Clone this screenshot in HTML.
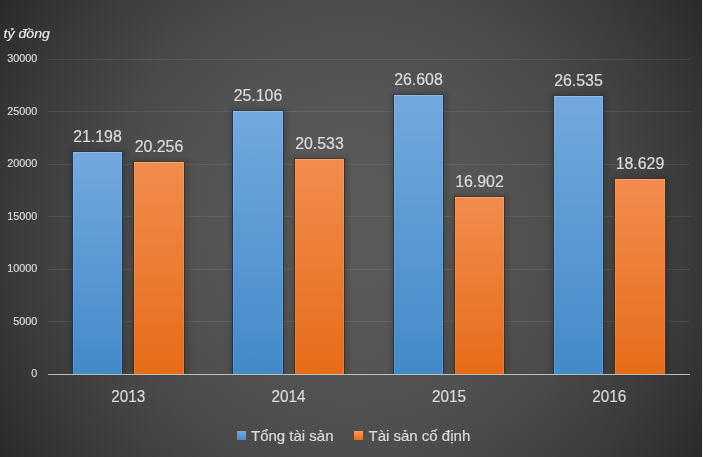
<!DOCTYPE html>
<html><head><meta charset="utf-8"><style>
html,body{margin:0;padding:0;background:#2a2a2a;}
svg{display:block;will-change:transform;}
text{font-family:"Liberation Sans",sans-serif;fill:#dcdcdc;stroke:#dcdcdc;stroke-width:0.18px;}
.dl{font-size:15.6px;}
.xl{font-size:16px;}
.yl{font-size:10.8px;}
.lg{font-size:15px;}
.ti{font-size:13px;font-style:italic;fill:#f2f2f2;}
</style></head><body>
<svg width="703" height="457" viewBox="0 0 703 457">
<defs>
<radialGradient id="bg" cx="351.5" cy="228.5" r="419" gradientUnits="userSpaceOnUse">
<stop offset="0.00" stop-color="rgb(90,90,90)"/>
<stop offset="0.10" stop-color="rgb(90,90,90)"/>
<stop offset="0.20" stop-color="rgb(88,88,88)"/>
<stop offset="0.30" stop-color="rgb(86,86,86)"/>
<stop offset="0.40" stop-color="rgb(82,82,82)"/>
<stop offset="0.50" stop-color="rgb(78,78,78)"/>
<stop offset="0.60" stop-color="rgb(73,73,73)"/>
<stop offset="0.70" stop-color="rgb(66,66,66)"/>
<stop offset="0.80" stop-color="rgb(59,59,59)"/>
<stop offset="0.90" stop-color="rgb(51,51,51)"/>
<stop offset="1.00" stop-color="rgb(42,42,42)"/>
</radialGradient>
<filter id="blur" x="-50%" y="-50%" width="200%" height="200%"><feGaussianBlur stdDeviation="2"/></filter>
<filter id="blur1" x="-10%" y="-200%" width="120%" height="500%"><feGaussianBlur stdDeviation="1.2"/></filter>
<linearGradient id="gb" x1="0" y1="0" x2="0" y2="1">
<stop offset="0" stop-color="#72a8de"/>
<stop offset="1" stop-color="#438ac9"/>
</linearGradient>
<linearGradient id="go" x1="0" y1="0" x2="0" y2="1">
<stop offset="0" stop-color="#f28c4e"/>
<stop offset="1" stop-color="#e56c18"/>
</linearGradient>
<linearGradient id="lb" x1="0" y1="0" x2="0" y2="1">
<stop offset="0" stop-color="#72a8de"/><stop offset="1" stop-color="#4a8acb"/>
</linearGradient>
<linearGradient id="lo" x1="0" y1="0" x2="0" y2="1">
<stop offset="0" stop-color="#f39a62"/><stop offset="1" stop-color="#e9701c"/>
</linearGradient>
</defs>
<rect x="0" y="0" width="703" height="457" fill="url(#bg)"/>
<rect x="702" y="0" width="1" height="457" fill="#f4f4f4"/>
<text x="3.5" y="37.5" class="ti" textLength="46.5" lengthAdjust="spacingAndGlyphs">tỷ đồng</text>
<rect x="48.0" y="321" width="642.00" height="1" fill="#fff" fill-opacity="0.08"/>
<rect x="48.0" y="269" width="642.00" height="1" fill="#fff" fill-opacity="0.08"/>
<rect x="48.0" y="216" width="642.00" height="1" fill="#fff" fill-opacity="0.08"/>
<rect x="48.0" y="164" width="642.00" height="1" fill="#fff" fill-opacity="0.08"/>
<rect x="48.0" y="111" width="642.00" height="1" fill="#fff" fill-opacity="0.08"/>
<rect x="48.0" y="59" width="642.00" height="1" fill="#fff" fill-opacity="0.08"/>
<rect x="69" y="149" width="58" height="225" fill="#000" fill-opacity="0.14" filter="url(#blur)"/>
<rect x="72" y="151" width="51" height="1" fill="#1f3650" fill-opacity="0.55"/>
<rect x="72" y="152" width="1" height="222" fill="#1f3650"/>
<rect x="122" y="152" width="1" height="222" fill="#1f3650" fill-opacity="0.9"/>
<rect x="73" y="152" width="49" height="222" fill="url(#gb)"/>
<rect x="73" y="152" width="49" height="1" fill="#fff" fill-opacity="0.22"/>
<rect x="73" y="153" width="1" height="221" fill="#fff" fill-opacity="0.11"/>
<rect x="121" y="153" width="1" height="221" fill="#fff" fill-opacity="0.11"/>
<text x="97.50" y="142.20" class="dl" text-anchor="middle" textLength="48.6" lengthAdjust="spacingAndGlyphs">21.198</text>
<rect x="130" y="159" width="59" height="215" fill="#000" fill-opacity="0.14" filter="url(#blur)"/>
<rect x="133" y="161" width="52" height="1" fill="#4a2a14" fill-opacity="0.55"/>
<rect x="133" y="162" width="1" height="212" fill="#4a2a14"/>
<rect x="184" y="162" width="1" height="212" fill="#4a2a14" fill-opacity="0.9"/>
<rect x="134" y="162" width="50" height="212" fill="url(#go)"/>
<rect x="134" y="162" width="50" height="1" fill="#fff" fill-opacity="0.22"/>
<rect x="134" y="163" width="1" height="211" fill="#fff" fill-opacity="0.11"/>
<rect x="183" y="163" width="1" height="211" fill="#fff" fill-opacity="0.11"/>
<text x="159.00" y="152.20" class="dl" text-anchor="middle" textLength="48.6" lengthAdjust="spacingAndGlyphs">20.256</text>
<text x="128.19" y="402" class="xl" text-anchor="middle" textLength="34" lengthAdjust="spacingAndGlyphs">2013</text>
<rect x="229" y="108" width="59" height="266" fill="#000" fill-opacity="0.14" filter="url(#blur)"/>
<rect x="232" y="110" width="52" height="1" fill="#1f3650" fill-opacity="0.55"/>
<rect x="232" y="111" width="1" height="263" fill="#1f3650"/>
<rect x="283" y="111" width="1" height="263" fill="#1f3650" fill-opacity="0.9"/>
<rect x="233" y="111" width="50" height="263" fill="url(#gb)"/>
<rect x="233" y="111" width="50" height="1" fill="#fff" fill-opacity="0.22"/>
<rect x="233" y="112" width="1" height="262" fill="#fff" fill-opacity="0.11"/>
<rect x="282" y="112" width="1" height="262" fill="#fff" fill-opacity="0.11"/>
<text x="258.00" y="101.20" class="dl" text-anchor="middle" textLength="48.6" lengthAdjust="spacingAndGlyphs">25.106</text>
<rect x="291" y="156" width="58" height="218" fill="#000" fill-opacity="0.14" filter="url(#blur)"/>
<rect x="294" y="158" width="51" height="1" fill="#4a2a14" fill-opacity="0.55"/>
<rect x="294" y="159" width="1" height="215" fill="#4a2a14"/>
<rect x="344" y="159" width="1" height="215" fill="#4a2a14" fill-opacity="0.9"/>
<rect x="295" y="159" width="49" height="215" fill="url(#go)"/>
<rect x="295" y="159" width="49" height="1" fill="#fff" fill-opacity="0.22"/>
<rect x="295" y="160" width="1" height="214" fill="#fff" fill-opacity="0.11"/>
<rect x="343" y="160" width="1" height="214" fill="#fff" fill-opacity="0.11"/>
<text x="319.50" y="149.20" class="dl" text-anchor="middle" textLength="48.6" lengthAdjust="spacingAndGlyphs">20.533</text>
<text x="288.56" y="402" class="xl" text-anchor="middle" textLength="34" lengthAdjust="spacingAndGlyphs">2014</text>
<rect x="390" y="92" width="58" height="282" fill="#000" fill-opacity="0.14" filter="url(#blur)"/>
<rect x="393" y="94" width="51" height="1" fill="#1f3650" fill-opacity="0.55"/>
<rect x="393" y="95" width="1" height="279" fill="#1f3650"/>
<rect x="443" y="95" width="1" height="279" fill="#1f3650" fill-opacity="0.9"/>
<rect x="394" y="95" width="49" height="279" fill="url(#gb)"/>
<rect x="394" y="95" width="49" height="1" fill="#fff" fill-opacity="0.22"/>
<rect x="394" y="96" width="1" height="278" fill="#fff" fill-opacity="0.11"/>
<rect x="442" y="96" width="1" height="278" fill="#fff" fill-opacity="0.11"/>
<text x="418.50" y="85.20" class="dl" text-anchor="middle" textLength="48.6" lengthAdjust="spacingAndGlyphs">26.608</text>
<rect x="451" y="194" width="58" height="180" fill="#000" fill-opacity="0.14" filter="url(#blur)"/>
<rect x="454" y="196" width="51" height="1" fill="#4a2a14" fill-opacity="0.55"/>
<rect x="454" y="197" width="1" height="177" fill="#4a2a14"/>
<rect x="504" y="197" width="1" height="177" fill="#4a2a14" fill-opacity="0.9"/>
<rect x="455" y="197" width="49" height="177" fill="url(#go)"/>
<rect x="455" y="197" width="49" height="1" fill="#fff" fill-opacity="0.22"/>
<rect x="455" y="198" width="1" height="176" fill="#fff" fill-opacity="0.11"/>
<rect x="503" y="198" width="1" height="176" fill="#fff" fill-opacity="0.11"/>
<text x="479.50" y="187.20" class="dl" text-anchor="middle" textLength="48.6" lengthAdjust="spacingAndGlyphs">16.902</text>
<text x="448.94" y="402" class="xl" text-anchor="middle" textLength="34" lengthAdjust="spacingAndGlyphs">2015</text>
<rect x="550" y="93" width="58" height="281" fill="#000" fill-opacity="0.14" filter="url(#blur)"/>
<rect x="553" y="95" width="51" height="1" fill="#1f3650" fill-opacity="0.55"/>
<rect x="553" y="96" width="1" height="278" fill="#1f3650"/>
<rect x="603" y="96" width="1" height="278" fill="#1f3650" fill-opacity="0.9"/>
<rect x="554" y="96" width="49" height="278" fill="url(#gb)"/>
<rect x="554" y="96" width="49" height="1" fill="#fff" fill-opacity="0.22"/>
<rect x="554" y="97" width="1" height="277" fill="#fff" fill-opacity="0.11"/>
<rect x="602" y="97" width="1" height="277" fill="#fff" fill-opacity="0.11"/>
<text x="578.50" y="86.20" class="dl" text-anchor="middle" textLength="48.6" lengthAdjust="spacingAndGlyphs">26.535</text>
<rect x="611" y="176" width="59" height="198" fill="#000" fill-opacity="0.14" filter="url(#blur)"/>
<rect x="614" y="178" width="52" height="1" fill="#4a2a14" fill-opacity="0.55"/>
<rect x="614" y="179" width="1" height="195" fill="#4a2a14"/>
<rect x="665" y="179" width="1" height="195" fill="#4a2a14" fill-opacity="0.9"/>
<rect x="615" y="179" width="50" height="195" fill="url(#go)"/>
<rect x="615" y="179" width="50" height="1" fill="#fff" fill-opacity="0.22"/>
<rect x="615" y="180" width="1" height="194" fill="#fff" fill-opacity="0.11"/>
<rect x="664" y="180" width="1" height="194" fill="#fff" fill-opacity="0.11"/>
<text x="640.00" y="169.20" class="dl" text-anchor="middle" textLength="48.6" lengthAdjust="spacingAndGlyphs">18.629</text>
<text x="609.31" y="402" class="xl" text-anchor="middle" textLength="34" lengthAdjust="spacingAndGlyphs">2016</text>
<text x="37.3" y="377.10" class="yl" text-anchor="end">0</text>
<text x="37.3" y="324.60" class="yl" text-anchor="end">5000</text>
<text x="37.3" y="272.10" class="yl" text-anchor="end">10000</text>
<text x="37.3" y="219.60" class="yl" text-anchor="end">15000</text>
<text x="37.3" y="167.10" class="yl" text-anchor="end">20000</text>
<text x="37.3" y="114.60" class="yl" text-anchor="end">25000</text>
<text x="37.3" y="62.10" class="yl" text-anchor="end">30000</text>
<rect x="48.0" y="374" width="642.00" height="1" fill="#e0e0e0" fill-opacity="0.78"/>
<rect x="237" y="431" width="9" height="9" fill="url(#lb)"/>
<text x="251" y="441" class="lg">Tổng tài sản</text>
<rect x="354" y="431" width="9" height="9" fill="url(#lo)"/>
<text x="368.5" y="441" class="lg">Tài sản cố định</text>
</svg>
</body></html>
